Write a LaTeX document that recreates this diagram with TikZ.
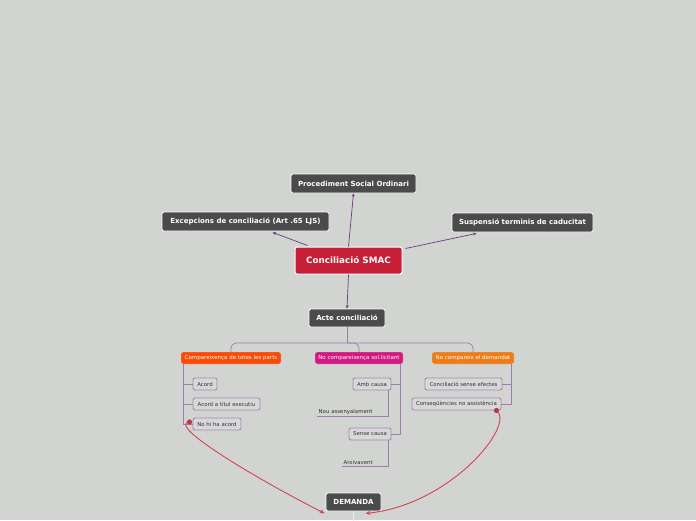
\documentclass[tikz,border=0pt]{standalone}
\usepackage{fontspec}
\setmainfont{DejaVu Sans}
\usetikzlibrary{calc,arrows.meta}
\definecolor{bg}{HTML}{D2D4D1}
\definecolor{darkbox}{HTML}{4B4B4B}
\definecolor{smacred}{HTML}{C71F37}
\definecolor{compor}{HTML}{FA4A06}
\definecolor{solmag}{HTML}{D11A80}
\definecolor{demor}{HTML}{EE7C18}
\definecolor{toppurple}{HTML}{6A3C80}
\definecolor{treepurple}{HTML}{9C7DAE}
\definecolor{leafborder}{HTML}{A28AB2}
\definecolor{leaffill}{HTML}{D8D8D8}
\definecolor{leaftext}{HTML}{333333}
\definecolor{curvered}{HTML}{D24450}
\tikzset{
  base/.style={rounded corners=2pt, inner sep=0pt, align=center},
  darknode/.style={base, fill=darkbox, draw=white, line width=0.8pt, text=white, font=\bfseries\fontsize{7}{8}\selectfont},
  colnode/.style={base, draw=white!85!black, line width=0.4pt, text=white, font=\fontsize{5.5}{6}\selectfont, minimum height=12pt},
  leaf/.style={base, fill=leaffill, draw=leafborder, line width=0.9pt, text=leaftext, font=\fontsize{5.4}{6}\selectfont, minimum height=12pt},
  plain/.style={inner sep=1.5pt, text=leaftext, font=\fontsize{5.4}{6}\selectfont},
  toparrow/.style={draw=toppurple, line width=0.7pt, -{Stealth[length=3.5pt,width=3pt]}},
  tree/.style={draw=treepurple, line width=0.7pt},
  redcurve/.style={draw=curvered, line width=0.9pt, -{Stealth[length=5pt,width=4pt]}},
}
\begin{document}
\begin{tikzpicture}[x=1pt,y=-1pt]
\fill[bg] (0,0) rectangle (696,520);
\useasboundingbox (0,0) rectangle (696,520);

% main nodes
\node[darknode, minimum width=125pt, minimum height=19pt] (proc) at (353.5,183.5) {Procediment Social Ordinari};
\node[darknode, minimum width=167pt, minimum height=19pt] (exc) at (245.5,221.5) {Excepcions de conciliació (Art .65 LJS)};
\node[darknode, minimum width=141pt, minimum height=19pt] (susp) at (522.5,222.5) {Suspensió terminis de caducitat};
\node[base, fill=smacred, draw=white, line width=1pt, text=white, font=\bfseries\fontsize{8.8}{10}\selectfont, minimum width=107pt, minimum height=27pt] (smac) at (348.5,260.5) {Conciliació SMAC};
\node[darknode, minimum width=76pt, minimum height=18pt] (acte) at (347,318) {Acte conciliació};

% second level
\node[colnode, fill=compor, minimum width=100pt] (comp) at (231,358) {Compareixença de totes les parts};
\node[colnode, fill=solmag, minimum width=88pt] (sol) at (359,358) {No compareixença sol.licitant};
\node[colnode, fill=demor, minimum width=82pt] (dem) at (473,358) {No compareix el demandat};

% leaves
\node[leaf, minimum width=24pt] (acord) at (205,384) {Acord};
\node[leaf, minimum width=67pt] (titol) at (226.5,404) {Acord a títul executiu};
\node[leaf, minimum width=48pt] (noacord) at (217,424) {No hi ha acord};
\node[leaf, minimum width=38pt] (amb) at (372,384) {Amb causa};
\node[leaf, minimum width=42pt] (sense) at (370,434) {Sense causa};
\node[leaf, minimum width=77pt] (cse) at (463.5,384) {Conciliació sense efectes};
\node[leaf, minimum width=89pt] (cons) at (456.5,404) {Conseqüències no assistència};
\node[plain, anchor=south west, minimum width=71pt, align=left, text width=68pt] (nou) at (317,416.5) {Nou assenyalament};
\node[plain, anchor=south west, minimum width=45pt, align=left, text width=42pt] (arx) at (342,466.5) {Arxivavent};

\node[darknode, minimum width=55pt, minimum height=18pt] (dmd) at (353.5,502) {DEMANDA};

% top arrows
\draw[toparrow] (smac.north) -- (proc.south);
\draw[toparrow] ($(smac.north west)+(13,-1)$) -- ($(exc.south)+(27,1)$);
\draw[toparrow] ($(smac.north east)+(3,2)$) -- ($(susp.south)+(-46,1)$);
\draw[toparrow] (smac.south) -- (acte.north);

% tree from acte
\coordinate (bus) at (347,343);
\draw[tree] (acte.south) -- (bus);
\draw[tree, rounded corners=5pt] (comp.north) |- (bus) -| (dem.north);
\draw[tree, rounded corners=5pt] (bus) -| (sol.north);

% left subtree
\coordinate (cl) at ($(comp.south west)+(3,0)$);
\draw[tree] (cl) |- (noacord.west);
\draw[tree] (cl) |- (acord.west);
\draw[tree] (cl) |- (titol.west);

% middle subtree
\coordinate (cm) at ($(sol.south east)+(-3,0)$);
\draw[tree] (cm) |- (sense.east);
\draw[tree] (cm) |- (amb.east);
\draw[tree] ($(amb.south east)+(-3,0)$) |- (nou.south west);
\draw[tree] ($(sense.south east)+(-3,0)$) |- (arx.south west);

% right subtree
\coordinate (cr) at ($(dem.south east)+(-3,0)$);
\draw[tree] (cr) |- (cons.east);
\draw[tree] (cr) |- (cse.east);

% off-image stub below DEMANDA
\coordinate (off) at (353.5,522);
\draw[white!85!gray, line width=0.8pt] (dmd.south) -- (off);

% red curves
\coordinate (rd1) at ($(noacord.west)+(-3,-2)$);
\coordinate (rd2) at ($(cons.south east)+(-5,0)$);
\draw[redcurve] (rd1) .. controls (168,424) and (240,470) .. ($(dmd.south west)+(-1,2)$);
\draw[redcurve] (rd2) .. controls (516,425) and (450,505) .. ($(dmd.south)+(12,2)$);
\fill[curvered!85!black] (rd1) circle (2.6pt);
\fill[curvered!85!black] (rd2) circle (2.6pt);
\end{tikzpicture}
\end{document}
